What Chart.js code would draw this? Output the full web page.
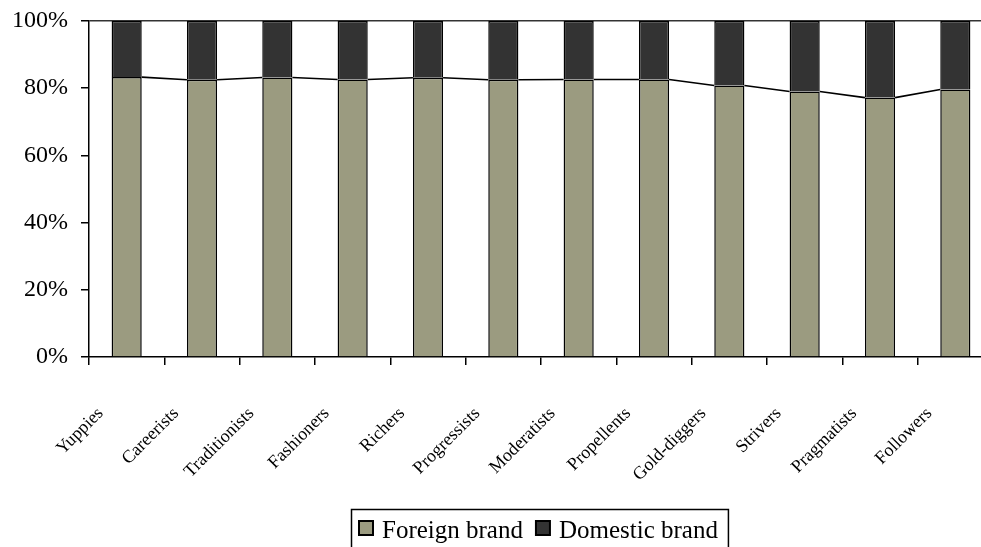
<!DOCTYPE html>
<html>
<head>
<meta charset="utf-8">
<script src="https://cdn.jsdelivr.net/npm/chart.js@4"></script>
<style>
  html, body { margin: 0; padding: 0; background: #fff; overflow: hidden; }
  #wrap { position: absolute; left: 0; top: 0; }
</style>
</head>
<body>
<div id="wrap"><canvas id="shareChart" width="1000" height="570"></canvas></div>
<script>
const segments = ['Yuppies', 'Careerists', 'Traditionists', 'Fashioners', 'Richers', 'Progressists',
    'Moderatists', 'Propellents', 'Gold-diggers', 'Strivers', 'Pragmatists', 'Followers'];

// share of respondents per segment, in percent
const foreignBrand = [83.3, 82.5, 83.2, 82.6, 83.1, 82.5, 82.6, 82.6, 80.8, 79.0, 77.2, 79.6];
const domesticBrand = [16.7, 17.5, 16.8, 17.4, 16.9, 17.5, 17.4, 17.4, 19.2, 21.0, 22.8, 20.4];

const serif = "'Liberation Serif', 'Times New Roman', serif";

Chart.defaults.font.family = serif;
Chart.defaults.color = '#000';

// thin lines joining the tops of the first series from bar to bar
const seriesLines = {
    id: 'seriesLines',
    afterDatasetsDraw(chart) {
        const bars = chart.getDatasetMeta(0).data;
        const ctx = chart.ctx;
        ctx.save();
        ctx.strokeStyle = '#000';
        ctx.lineWidth = 1.6;
        ctx.beginPath();
        for (let i = 0; i < bars.length - 1; i++) {
            const a = bars[i], b = bars[i + 1];
            ctx.moveTo(a.x + a.width / 2, a.y);
            ctx.lineTo(b.x - b.width / 2, b.y);
        }
        ctx.stroke();
        ctx.restore();
    }
};

// boxed legend under the category labels
const boxedLegend = {
    id: 'boxedLegend',
    afterDraw(chart) {
        const ctx = chart.ctx;
        const area = chart.chartArea;
        ctx.save();
        ctx.font = '25px ' + serif;
        ctx.textBaseline = 'alphabetic';
        const marker = 14, gap = 9, itemGap = 13, padL = 8, padR = 10;
        const items = chart.data.datasets.map(ds => ({
            label: ds.label,
            color: ds.backgroundColor,
            w: ctx.measureText(ds.label).width
        }));
        let total = padL + padR + itemGap * (items.length - 1);
        items.forEach(it => { total += marker + gap + it.w; });
        const left = Math.round((area.left + area.right) / 2 - total / 2) - 2;
        const top = area.bottom + 152;
        ctx.strokeStyle = '#000';
        ctx.lineWidth = 1.5;
        ctx.strokeRect(left + 0.5, top + 0.5, total, 60);
        let x = left + padL;
        items.forEach(it => {
            ctx.fillStyle = it.color;
            ctx.fillRect(x, top + 12, marker, marker);
            ctx.lineWidth = 2;
            ctx.strokeRect(x, top + 12, marker, marker);
            ctx.fillStyle = '#000';
            ctx.fillText(it.label, x + marker + gap, top + 29);
            x += marker + gap + it.w + itemGap;
        });
        ctx.restore();
    }
};

new Chart(document.getElementById('shareChart'), {
    type: 'bar',
    data: {
        labels: segments,
        datasets: [
            {
                label: 'Foreign brand',
                data: foreignBrand,
                backgroundColor: '#9b9b80',
                borderColor: '#000',
                borderWidth: 1.5
            },
            {
                label: 'Domestic brand',
                data: domesticBrand,
                backgroundColor: '#333333',
                borderColor: '#000',
                borderWidth: 1.5
            }
        ]
    },
    options: {
        responsive: false,
        animation: false,
        devicePixelRatio: 1,
        layout: { padding: { top: 21, right: 7, left: 0, bottom: 0 } },
        datasets: { bar: { categoryPercentage: 1, barPercentage: 0.4 } },
        plugins: {
            legend: { display: false },
            tooltip: { enabled: false }
        },
        scales: {
            x: {
                stacked: true,
                afterFit(scale) {
                    scale.height = 570 - 357;
                    scale.paddingLeft = 0;
                    scale.paddingRight = 0;
                },
                border: { display: true, color: '#000', width: 1.5 },
                grid: {
                    drawOnChartArea: false,
                    drawTicks: true,
                    tickLength: 8,
                    color: '#000',
                    tickColor: '#000',
                    lineWidth: 1.5
                },
                ticks: {
                    minRotation: 45,
                    maxRotation: 45,
                    autoSkip: false,
                    padding: 38,
                    labelOffset: -26,
                    font: { size: 18 }
                }
            },
            y: {
                stacked: true,
                min: 0,
                max: 100,
                afterFit(scale) {
                    scale.width = 89;
                    scale.paddingTop = 0;
                    scale.paddingBottom = 0;
                },
                border: { display: true, color: '#000', width: 1.5 },
                grid: {
                    color: ctx => ctx.tick && ctx.tick.value === 100 ? '#333' : 'rgba(0,0,0,0)',
                    tickColor: '#000',
                    tickLength: 8,
                    lineWidth: 1.5
                },
                ticks: {
                    stepSize: 20,
                    padding: 13,
                    font: { size: 24 },
                    callback: value => value + '%'
                }
            }
        }
    },
    plugins: [seriesLines, boxedLegend]
});
</script>
</body>
</html>
